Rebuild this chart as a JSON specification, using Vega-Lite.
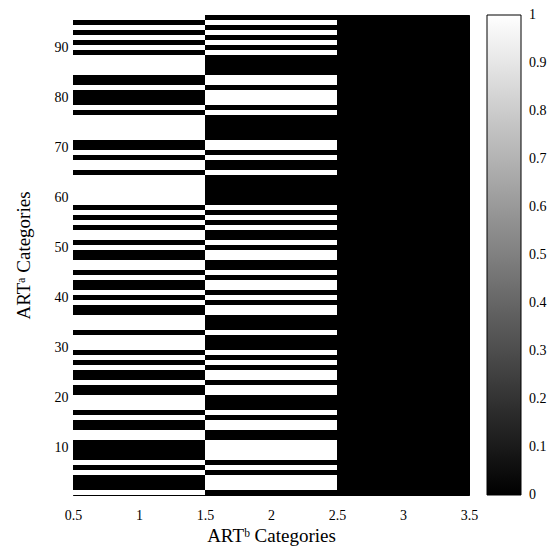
{
  "$schema": "https://vega.github.io/schema/vega-lite/v6.json",
  "width": 396,
  "height": 480,
  "autosize": {"type": "none"},
  "padding": {"left": 73, "top": 15, "right": 89, "bottom": 53},
  "background": "white",
  "config": {
    "view": {"stroke": "black", "strokeWidth": 1},
    "font": "Liberation Serif",
    "axis": {
      "labelFont": "Liberation Serif",
      "labelFontSize": 14,
      "labelColor": "black",
      "tickColor": "black",
      "tickOpacity": 1,
      "tickWidth": 1,
      "tickSize": -5,
      "domain": false,
      "grid": false,
      "labelFlush": false,
      "labelOverlap": false,
      "titleFont": "Liberation Serif",
      "titleFontWeight": "normal",
      "titleFontSize": 19,
      "titleColor": "black",
      "zindex": 1
    }
  },
  "data": {
    "values": [
      {"r":1,"c":1,"v":1},{"r":2,"c":1,"v":0},{"r":3,"c":1,"v":0},{"r":4,"c":1,"v":0},{"r":5,"c":1,"v":1},{"r":6,"c":1,"v":0},{"r":7,"c":1,"v":1},{"r":8,"c":1,"v":0},{"r":9,"c":1,"v":0},{"r":10,"c":1,"v":0},
      {"r":11,"c":1,"v":0},{"r":12,"c":1,"v":1},{"r":13,"c":1,"v":1},{"r":14,"c":1,"v":0},{"r":15,"c":1,"v":0},{"r":16,"c":1,"v":1},{"r":17,"c":1,"v":0},{"r":18,"c":1,"v":1},{"r":19,"c":1,"v":1},{"r":20,"c":1,"v":1},
      {"r":21,"c":1,"v":0},{"r":22,"c":1,"v":0},{"r":23,"c":1,"v":1},{"r":24,"c":1,"v":0},{"r":25,"c":1,"v":0},{"r":26,"c":1,"v":1},{"r":27,"c":1,"v":0},{"r":28,"c":1,"v":1},{"r":29,"c":1,"v":0},{"r":30,"c":1,"v":1},
      {"r":31,"c":1,"v":1},{"r":32,"c":1,"v":1},{"r":33,"c":1,"v":0},{"r":34,"c":1,"v":1},{"r":35,"c":1,"v":1},{"r":36,"c":1,"v":1},{"r":37,"c":1,"v":0},{"r":38,"c":1,"v":0},{"r":39,"c":1,"v":1},{"r":40,"c":1,"v":0},
      {"r":41,"c":1,"v":1},{"r":42,"c":1,"v":0},{"r":43,"c":1,"v":0},{"r":44,"c":1,"v":1},{"r":45,"c":1,"v":0},{"r":46,"c":1,"v":1},{"r":47,"c":1,"v":1},{"r":48,"c":1,"v":0},{"r":49,"c":1,"v":0},{"r":50,"c":1,"v":1},
      {"r":51,"c":1,"v":0},{"r":52,"c":1,"v":1},{"r":53,"c":1,"v":1},{"r":54,"c":1,"v":0},{"r":55,"c":1,"v":1},{"r":56,"c":1,"v":0},{"r":57,"c":1,"v":1},{"r":58,"c":1,"v":0},{"r":59,"c":1,"v":1},{"r":60,"c":1,"v":1},
      {"r":61,"c":1,"v":1},{"r":62,"c":1,"v":1},{"r":63,"c":1,"v":1},{"r":64,"c":1,"v":1},{"r":65,"c":1,"v":0},{"r":66,"c":1,"v":1},{"r":67,"c":1,"v":1},{"r":68,"c":1,"v":0},{"r":69,"c":1,"v":1},{"r":70,"c":1,"v":0},
      {"r":71,"c":1,"v":0},{"r":72,"c":1,"v":1},{"r":73,"c":1,"v":1},{"r":74,"c":1,"v":1},{"r":75,"c":1,"v":1},{"r":76,"c":1,"v":1},{"r":77,"c":1,"v":0},{"r":78,"c":1,"v":1},{"r":79,"c":1,"v":0},{"r":80,"c":1,"v":0},
      {"r":81,"c":1,"v":0},{"r":82,"c":1,"v":1},{"r":83,"c":1,"v":0},{"r":84,"c":1,"v":0},{"r":85,"c":1,"v":1},{"r":86,"c":1,"v":1},{"r":87,"c":1,"v":1},{"r":88,"c":1,"v":1},{"r":89,"c":1,"v":0},{"r":90,"c":1,"v":1},
      {"r":91,"c":1,"v":0},{"r":92,"c":1,"v":1},{"r":93,"c":1,"v":0},{"r":94,"c":1,"v":1},{"r":95,"c":1,"v":0},{"r":96,"c":1,"v":1},
      {"r":1,"c":2,"v":0},{"r":2,"c":2,"v":1},{"r":3,"c":2,"v":1},{"r":4,"c":2,"v":1},{"r":5,"c":2,"v":0},{"r":6,"c":2,"v":1},{"r":7,"c":2,"v":0},{"r":8,"c":2,"v":1},{"r":9,"c":2,"v":1},{"r":10,"c":2,"v":1},
      {"r":11,"c":2,"v":1},{"r":12,"c":2,"v":0},{"r":13,"c":2,"v":0},{"r":14,"c":2,"v":1},{"r":15,"c":2,"v":1},{"r":16,"c":2,"v":0},{"r":17,"c":2,"v":1},{"r":18,"c":2,"v":0},{"r":19,"c":2,"v":0},{"r":20,"c":2,"v":0},
      {"r":21,"c":2,"v":1},{"r":22,"c":2,"v":1},{"r":23,"c":2,"v":0},{"r":24,"c":2,"v":1},{"r":25,"c":2,"v":1},{"r":26,"c":2,"v":0},{"r":27,"c":2,"v":1},{"r":28,"c":2,"v":0},{"r":29,"c":2,"v":1},{"r":30,"c":2,"v":0},
      {"r":31,"c":2,"v":0},{"r":32,"c":2,"v":0},{"r":33,"c":2,"v":1},{"r":34,"c":2,"v":0},{"r":35,"c":2,"v":0},{"r":36,"c":2,"v":0},{"r":37,"c":2,"v":1},{"r":38,"c":2,"v":1},{"r":39,"c":2,"v":0},{"r":40,"c":2,"v":1},
      {"r":41,"c":2,"v":0},{"r":42,"c":2,"v":1},{"r":43,"c":2,"v":1},{"r":44,"c":2,"v":0},{"r":45,"c":2,"v":1},{"r":46,"c":2,"v":0},{"r":47,"c":2,"v":0},{"r":48,"c":2,"v":1},{"r":49,"c":2,"v":1},{"r":50,"c":2,"v":0},
      {"r":51,"c":2,"v":1},{"r":52,"c":2,"v":0},{"r":53,"c":2,"v":0},{"r":54,"c":2,"v":1},{"r":55,"c":2,"v":0},{"r":56,"c":2,"v":1},{"r":57,"c":2,"v":0},{"r":58,"c":2,"v":1},{"r":59,"c":2,"v":0},{"r":60,"c":2,"v":0},
      {"r":61,"c":2,"v":0},{"r":62,"c":2,"v":0},{"r":63,"c":2,"v":0},{"r":64,"c":2,"v":0},{"r":65,"c":2,"v":1},{"r":66,"c":2,"v":0},{"r":67,"c":2,"v":0},{"r":68,"c":2,"v":1},{"r":69,"c":2,"v":0},{"r":70,"c":2,"v":1},
      {"r":71,"c":2,"v":1},{"r":72,"c":2,"v":0},{"r":73,"c":2,"v":0},{"r":74,"c":2,"v":0},{"r":75,"c":2,"v":0},{"r":76,"c":2,"v":0},{"r":77,"c":2,"v":1},{"r":78,"c":2,"v":0},{"r":79,"c":2,"v":1},{"r":80,"c":2,"v":1},
      {"r":81,"c":2,"v":1},{"r":82,"c":2,"v":0},{"r":83,"c":2,"v":1},{"r":84,"c":2,"v":1},{"r":85,"c":2,"v":0},{"r":86,"c":2,"v":0},{"r":87,"c":2,"v":0},{"r":88,"c":2,"v":0},{"r":89,"c":2,"v":1},{"r":90,"c":2,"v":0},
      {"r":91,"c":2,"v":1},{"r":92,"c":2,"v":0},{"r":93,"c":2,"v":1},{"r":94,"c":2,"v":0},{"r":95,"c":2,"v":1},{"r":96,"c":2,"v":0},
      {"r":1,"c":3,"v":0},{"r":2,"c":3,"v":0},{"r":3,"c":3,"v":0},{"r":4,"c":3,"v":0},{"r":5,"c":3,"v":0},{"r":6,"c":3,"v":0},{"r":7,"c":3,"v":0},{"r":8,"c":3,"v":0},{"r":9,"c":3,"v":0},{"r":10,"c":3,"v":0},
      {"r":11,"c":3,"v":0},{"r":12,"c":3,"v":0},{"r":13,"c":3,"v":0},{"r":14,"c":3,"v":0},{"r":15,"c":3,"v":0},{"r":16,"c":3,"v":0},{"r":17,"c":3,"v":0},{"r":18,"c":3,"v":0},{"r":19,"c":3,"v":0},{"r":20,"c":3,"v":0},
      {"r":21,"c":3,"v":0},{"r":22,"c":3,"v":0},{"r":23,"c":3,"v":0},{"r":24,"c":3,"v":0},{"r":25,"c":3,"v":0},{"r":26,"c":3,"v":0},{"r":27,"c":3,"v":0},{"r":28,"c":3,"v":0},{"r":29,"c":3,"v":0},{"r":30,"c":3,"v":0},
      {"r":31,"c":3,"v":0},{"r":32,"c":3,"v":0},{"r":33,"c":3,"v":0},{"r":34,"c":3,"v":0},{"r":35,"c":3,"v":0},{"r":36,"c":3,"v":0},{"r":37,"c":3,"v":0},{"r":38,"c":3,"v":0},{"r":39,"c":3,"v":0},{"r":40,"c":3,"v":0},
      {"r":41,"c":3,"v":0},{"r":42,"c":3,"v":0},{"r":43,"c":3,"v":0},{"r":44,"c":3,"v":0},{"r":45,"c":3,"v":0},{"r":46,"c":3,"v":0},{"r":47,"c":3,"v":0},{"r":48,"c":3,"v":0},{"r":49,"c":3,"v":0},{"r":50,"c":3,"v":0},
      {"r":51,"c":3,"v":0},{"r":52,"c":3,"v":0},{"r":53,"c":3,"v":0},{"r":54,"c":3,"v":0},{"r":55,"c":3,"v":0},{"r":56,"c":3,"v":0},{"r":57,"c":3,"v":0},{"r":58,"c":3,"v":0},{"r":59,"c":3,"v":0},{"r":60,"c":3,"v":0},
      {"r":61,"c":3,"v":0},{"r":62,"c":3,"v":0},{"r":63,"c":3,"v":0},{"r":64,"c":3,"v":0},{"r":65,"c":3,"v":0},{"r":66,"c":3,"v":0},{"r":67,"c":3,"v":0},{"r":68,"c":3,"v":0},{"r":69,"c":3,"v":0},{"r":70,"c":3,"v":0},
      {"r":71,"c":3,"v":0},{"r":72,"c":3,"v":0},{"r":73,"c":3,"v":0},{"r":74,"c":3,"v":0},{"r":75,"c":3,"v":0},{"r":76,"c":3,"v":0},{"r":77,"c":3,"v":0},{"r":78,"c":3,"v":0},{"r":79,"c":3,"v":0},{"r":80,"c":3,"v":0},
      {"r":81,"c":3,"v":0},{"r":82,"c":3,"v":0},{"r":83,"c":3,"v":0},{"r":84,"c":3,"v":0},{"r":85,"c":3,"v":0},{"r":86,"c":3,"v":0},{"r":87,"c":3,"v":0},{"r":88,"c":3,"v":0},{"r":89,"c":3,"v":0},{"r":90,"c":3,"v":0},
      {"r":91,"c":3,"v":0},{"r":92,"c":3,"v":0},{"r":93,"c":3,"v":0},{"r":94,"c":3,"v":0},{"r":95,"c":3,"v":0},{"r":96,"c":3,"v":0}
    ]
  },
  "layer": [
    {
      "mark": {"type": "rect"},
      "encoding": {
        "x": {"field": "c", "type": "ordinal", "scale": {"paddingInner": 0, "paddingOuter": 0}, "axis": null},
        "y": {"field": "r", "type": "ordinal", "sort": "descending", "scale": {"paddingInner": 0, "paddingOuter": 0}, "axis": null},
        "color": {
          "field": "v",
          "type": "quantitative",
          "scale": {"domain": [0, 1], "range": ["black", "white"], "interpolate": "rgb"},
          "legend": {
            "title": null,
            "type": "gradient",
            "direction": "vertical",
            "orient": "right",
            "offset": 17,
            "padding": 0,
            "gradientLength": 480,
            "gradientThickness": 34,
            "gradientStrokeColor": "black",
            "gradientStrokeWidth": 1,
            "values": [0, 0.1, 0.2, 0.3, 0.4, 0.5, 0.6, 0.7, 0.8, 0.9, 1],
            "format": "~g",
            "labelFont": "Liberation Serif",
            "labelFontSize": 14,
            "labelColor": "black",
            "labelOffset": 8,
            "labelOverlap": false,
            "encode": {"labels": {"update": {"baseline": {"value": "middle"}}}}
          }
        }
      }
    },
    {
      "mark": {"type": "point", "opacity": 0},
      "encoding": {
        "x": {"field": "c", "type": "quantitative", "scale": {"domain": [0.5, 3.5], "nice": false, "zero": false},
              "axis": {"orient": "bottom", "values": [0.5, 1, 1.5, 2, 2.5, 3, 3.5], "format": "~g", "labelPadding": 18, "titlePadding": 4, "tickColor": "black", "title": "ARTᵇ Categories"}},
        "y": {"field": "r", "type": "quantitative", "scale": {"domain": [0.5, 96.5], "nice": false, "zero": false},
              "axis": {"orient": "left", "values": [10, 20, 30, 40, 50, 60, 70, 80, 90], "labelPadding": 10, "titlePadding": 21, "tickColor": "black", "title": "ARTᵃ Categories"}}
      }
    },
    {
      "mark": {"type": "point", "opacity": 0},
      "encoding": {
        "x": {"field": "c", "type": "quantitative", "scale": {"domain": [0.5, 3.5], "nice": false, "zero": false},
              "axis": {"orient": "top", "values": [0.5, 1, 1.5, 2, 2.5, 3, 3.5], "labels": false, "tickColor": "black", "title": null}},
        "y": {"field": "r", "type": "quantitative", "scale": {"domain": [0.5, 96.5], "nice": false, "zero": false},
              "axis": {"orient": "right", "values": [10, 20, 30, 40, 50, 60, 70, 80, 90], "labels": false, "tickColor": "black", "title": null}}
      }
    }
  ],
  "resolve": {"scale": {"x": "independent", "y": "independent"}}
}
